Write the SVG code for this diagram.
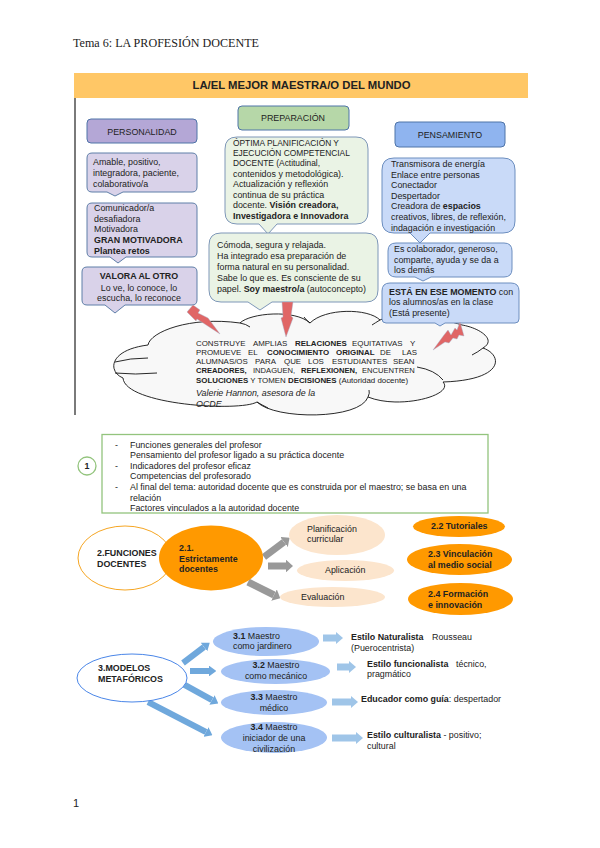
<svg xmlns="http://www.w3.org/2000/svg" width="600" height="848" viewBox="0 0 600 848">
<style>
text{font-family:"Liberation Sans",Arial,sans-serif;font-size:8.9px;fill:#222}
.b{font-weight:700}
.m{text-anchor:middle}
.s{font-size:8.4px}
.c{font-size:7.9px}
.box{stroke-width:1}
.pur{fill:#D9D2E9;stroke:#5F7FA8}
.grn{fill:#EAF3E5;stroke:#7E97B8}
.blu{fill:#C9DAF8;stroke:#6C8EBF}
.bolt{fill:#E06666;stroke:#9FB4CC;stroke-width:.4}
.cl{fill:none;stroke:#111;stroke-width:.9}
</style>
<defs>
<marker id="mg" viewBox="0 0 1 1.8" refX="0" refY=".9" markerWidth="1" markerHeight="1.8" orient="auto"><path d="M0,0L1,.9L0,1.8Z" fill="#999"/></marker>
<marker id="mb" viewBox="0 0 1.2 1.8" refX="0" refY=".9" markerWidth="1.2" markerHeight="1.8" orient="auto"><path d="M0,0L1.2,.9L0,1.8Z" fill="#6FA8DC"/></marker>
<marker id="ml" viewBox="0 0 1 1.7" refX="0" refY=".85" markerWidth="1" markerHeight="1.7" orient="auto"><path d="M0,0L1,.85L0,1.7Z" fill="#9FC5E8"/></marker>
</defs>
<rect width="600" height="848" fill="#fff"/>
<text x="73" y="47" style="font-family:'Liberation Serif',serif;font-size:12.1px">Tema 6: LA PROFESIÓN DOCENTE</text>
<text x="73" y="807" style="font-size:11px">1</text>

<rect x="74" y="73" width="2" height="342" fill="#7a7a7a"/>
<g id="title"><rect x="74" y="73" width="454" height="25" fill="#FFC766"/><text class="b" x="301.500" y="89" style="font-size:11.300px;text-anchor:middle">LA/EL MEJOR MAESTRA/O DEL MUNDO</text></g>

<g id="cloud">
<path d="M148,345C150,332 190,316 240,323C250,313 295,309 310,323C325,308 368,308 380,320C400,310 440,318 462,325C480,328 497,340 483,348C503,355 505,380 443,382C455,395 400,410 368,397C360,420 275,420 257,402C240,412 125,405 123,378C108,372 108,350 148,345Z" fill="#F8F8F8" stroke="#111" stroke-width=".9"/>
<path class="cl" d="M115,362Q130,358 148,358M115,373Q135,375 157,373M417,367Q435,370 443,380M483,348Q478,352 472,355M368,397Q370,393 369,390M257,402Q262,405 268,408M240,323Q246,324 250,327M310,323Q306,320 304,317M380,320Q375,323 372,325"/>
<text class="c"><tspan x="196" y="346">CONSTRUYE</tspan><tspan x="253" y="346">AMPLIAS</tspan><tspan class="b" x="295" y="346">RELACIONES</tspan><tspan x="352" y="346">EQUITATIVAS</tspan><tspan x="410" y="346">Y</tspan></text>
<text class="c"><tspan x="196" y="355">PROMUEVE</tspan><tspan x="248" y="355">EL</tspan><tspan class="b" x="267" y="355">CONOCIMIENTO</tspan><tspan class="b" x="336" y="355">ORIGINAL</tspan><tspan x="380" y="355">DE</tspan><tspan x="402" y="355">LAS</tspan></text>
<text class="c"><tspan x="196" y="364">ALUMNAS/OS</tspan><tspan x="255" y="364">PARA</tspan><tspan x="284" y="364">QUE</tspan><tspan x="308" y="364">LOS</tspan><tspan x="332" y="364">ESTUDIANTES</tspan><tspan x="393" y="364">SEAN</tspan></text>
<text style="font-size:7.600px"><tspan class="b" x="196" y="373">CREADORES,</tspan><tspan x="253" y="373">INDAGUEN,</tspan><tspan class="b" x="301" y="373">REFLEXIONEN,</tspan><tspan x="362" y="373">ENCUENTREN</tspan></text>
<text class="c" x="196" y="383"><tspan class="b">SOLUCIONES</tspan> Y TOMEN <tspan class="b">DECISIONES</tspan> (Autoridad docente)</text>
<text x="196" y="396" style="font-style:italic">Valerie Hannon, asesora de la</text>
<text x="196" y="407" style="font-style:italic">OCDE</text>
</g>

<g id="personalidad"><rect class="box" x="87" y="119" width="110" height="24" rx="4" fill="#B4A7D6" stroke="#4F74A8"/><text class="m" x="142" y="135">PERSONALIDAD</text></g>
<g id="amable"><path class="box pur" d="M92,153H192Q197,153 197,158V187Q197,192 192,192H123L115,196L107,192H92Q87,192 87,187V158Q87,153 92,153Z"/>
<text x="93" y="165">Amable, positivo,</text><text x="93" y="176">integradora, paciente,</text><text x="93" y="187">colaborativo/a</text></g>
<g id="comunicador"><path class="box pur" d="M92,203H192Q197,203 197,208V252Q197,257 192,257H126L118,263L110,257H92Q87,257 87,252V208Q87,203 92,203Z"/>
<text x="94" y="211">Comunicador/a</text><text x="94" y="222">desafiadora</text><text x="94" y="232">Motivadora</text><text class="b" x="94" y="243">GRAN MOTIVADORA</text><text class="b" x="94" y="254">Plantea retos</text></g>
<g id="valora"><path class="box pur" d="M87,267H192Q197,267 197,272V300Q197,305 192,305H125L115,313L105,305H87Q82,305 82,300V272Q82,267 87,267Z"/>
<text class="b m" x="139" y="279">VALORA AL OTRO</text><text class="m" x="139" y="291">Lo ve, lo conoce, lo</text><text class="m" x="139" y="301">escucha, lo reconoce</text></g>

<g id="preparacion"><rect class="box" x="238" y="106" width="111" height="24" rx="4" fill="#B6D7A8" stroke="#4F74A8"/><text class="m" x="293" y="121">PREPARACIÓN</text></g>
<g id="optima"><path class="box grn" d="M237,137H356Q368,137 368,149V212Q368,224 356,224H277L268,234L259,224H237Q225,224 225,212V149Q225,137 237,137Z"/>
<text class="s" x="233" y="146">ÓPTIMA PLANIFICACIÓN Y</text><text class="s" x="233" y="156">EJECUCIÓN COMPETENCIAL</text><text x="233" y="166" class="s">DOCENTE (Actitudinal,</text><text x="233" y="177">contenidos y metodológica).</text><text x="233" y="187">Actualización y reflexión</text><text x="233" y="198">continua de su práctica</text><text x="233" y="208">docente. <tspan class="b">Visión creadora,</tspan></text><text class="b" x="233" y="219">Investigadora e Innovadora</text></g>
<g id="comoda"><path class="box grn" d="M221,233H366Q378,233 378,245V290Q378,302 366,302H272L260,310L248,302H221Q209,302 209,290V245Q209,233 221,233Z"/>
<text x="217" y="248">Cómoda, segura y relajada.</text><text x="217" y="259">Ha integrado esa preparación de</text><text x="217" y="270">forma natural en su personalidad.</text><text x="217" y="281">Sabe lo que es. Es consciente de su</text><text x="217" y="292">papel. <tspan class="b">Soy maestro/a</tspan> (autoconcepto)</text></g>

<g id="pensamiento"><rect class="box" x="395" y="122" width="110" height="25" rx="4" fill="#8FB4EF" stroke="#4F74A8"/><text class="m" x="450" y="138">PENSAMIENTO</text></g>
<g id="transmisora"><path class="box blu" d="M394,158H503Q515,158 515,170V221Q515,233 503,233H430L420,243L410,233H394Q382,233 382,221V170Q382,158 394,158Z"/>
<text x="391" y="167">Transmisora de energía</text><text x="391" y="178">Enlace entre personas</text><text x="391" y="188">Conectador</text><text x="391" y="199">Despertador</text><text x="391" y="209">Creadora de <tspan class="b">espacios</tspan></text><text x="391" y="220">creativos, libres, de reflexión,</text><text x="391" y="231">indagación e investigación</text></g>
<g id="colaborador"><path class="box blu" d="M396,243H504Q512,243 512,251V269Q512,277 504,277H431L423,281L415,277H396Q388,277 388,269V251Q388,243 396,243Z"/>
<text x="394" y="252">Es colaborador, generoso,</text><text x="394" y="263">comparte, ayuda y se da a</text><text x="394" y="273">los demás</text></g>
<g id="esta"><path class="box blu" d="M390,283H511Q519,283 519,291V319Q519,323 515,323H445L440,326L435,323H386Q382,323 382,319V291Q382,283 390,283Z"/>
<text x="389" y="295"><tspan class="b">ESTÁ EN ESE MOMENTO</tspan> con</text><text x="389" y="305">los alumnos/as en la clase</text><text x="389" y="316">(Está presente)</text></g>

<g id="bolts">
<path class="bolt" d="M193,305L200,310L198,313L208,318L220,334L197,319L196,321L187,312Z"/>
<path class="bolt" d="M282,302H293L291,316L293,318L286,337L281,318L283,317Z"/>
<path class="bolt" d="M433,350L444,335L448,330L451,335L455,328L457,330L460,322L464,336L459,335L457,339L453,338L449,343L445,342Z"/>
</g>

<g id="box1"><rect x="102" y="434.500" width="386" height="78.500" fill="#fff" stroke="#93C47D" stroke-width="1.300"/>
<text x="115" y="448">-</text><text x="130" y="448">Funciones generales del profesor</text><text x="130" y="458">Pensamiento del profesor ligado a su práctica docente</text><text x="115" y="469">-</text><text x="130" y="469">Indicadores del profesor eficaz</text><text x="130" y="479">Competencias del profesorado</text><text x="115" y="490">-</text><text x="130" y="490">Al final del tema: autoridad docente que es construida por el maestro; se basa en una</text><text x="130" y="501">relación</text><text x="130" y="511">Factores vinculados a la autoridad docente</text></g>
<g id="n1"><circle cx="87" cy="466" r="9" fill="#fff" stroke="#93C47D" stroke-width="1.300"/><text class="b m" x="87" y="469">1</text></g>

<g id="connectors" fill="none">
<line x1="264" y1="557" x2="284" y2="542" stroke="#999" stroke-width="7" marker-end="url(#mg)"/>
<line x1="268" y1="566" x2="286" y2="566" stroke="#999" stroke-width="7" marker-end="url(#mg)"/>
<line x1="248" y1="582" x2="274" y2="595" stroke="#999" stroke-width="7" marker-end="url(#mg)"/>
<line x1="183" y1="663" x2="204" y2="647" stroke="#6FA8DC" stroke-width="6" marker-end="url(#mb)"/>
<line x1="190" y1="671" x2="209" y2="671" stroke="#6FA8DC" stroke-width="6" marker-end="url(#mb)"/>
<line x1="183" y1="684" x2="212" y2="700" stroke="#6FA8DC" stroke-width="6" marker-end="url(#mb)"/>
<line x1="148" y1="702" x2="206" y2="732" stroke="#6FA8DC" stroke-width="6" marker-end="url(#mb)"/>
<line x1="323" y1="638" x2="336" y2="638" stroke="#9FC5E8" stroke-width="7" marker-end="url(#ml)"/>
<line x1="337" y1="667" x2="349" y2="667" stroke="#9FC5E8" stroke-width="7" marker-end="url(#ml)"/>
<line x1="332" y1="702" x2="351" y2="702" stroke="#9FC5E8" stroke-width="7" marker-end="url(#ml)"/>
<line x1="332" y1="738" x2="356" y2="738" stroke="#9FC5E8" stroke-width="7" marker-end="url(#ml)"/>
</g>

<g id="funciones"><ellipse cx="125" cy="558" rx="47" ry="32" fill="#fff" stroke="#F6A623" stroke-width="1"/><text class="b" x="97" y="556">2.FUNCIONES</text><text class="b" x="97" y="567">DOCENTES</text></g>
<g id="n21"><ellipse cx="211" cy="558" rx="52" ry="32.500" fill="#FF9900"/><text class="b" x="179" y="551">2.1.</text><text class="b" x="179" y="562">Estrictamente</text><text class="b" x="179" y="572">docentes</text></g>
<g id="planificacion"><ellipse cx="337" cy="535" rx="48" ry="20" fill="#FCE5CD"/><text x="307" y="532">Planificación</text><text x="307" y="542">curricular</text></g>
<g id="aplicacion"><ellipse cx="345.500" cy="570.500" rx="48.500" ry="10.500" fill="#FCE5CD"/><text x="325" y="573">Aplicación</text></g>
<g id="evaluacion"><ellipse cx="332.500" cy="597" rx="52.500" ry="10" fill="#FCE5CD"/><text x="301" y="600">Evaluación</text></g>
<g id="n22"><ellipse cx="459" cy="526.500" rx="46" ry="10.500" fill="#FF9900"/><text class="b" x="431" y="529">2.2 Tutoriales</text></g>
<g id="n23"><ellipse cx="459.500" cy="559.500" rx="52.500" ry="15.500" fill="#FF9900"/><text class="b" x="428" y="557">2.3 Vinculación</text><text class="b" x="428" y="568">al medio social</text></g>
<g id="n24"><ellipse cx="460.500" cy="599" rx="52.500" ry="16" fill="#FF9900"/><text class="b" x="428" y="597">2.4 Formación</text><text class="b" x="428" y="608">e innovación</text></g>

<g id="modelos"><ellipse cx="132" cy="678" rx="55" ry="24" fill="#fff" stroke="#4A86E8" stroke-width="1"/><text class="b" x="98" y="671">3.MODELOS</text><text class="b" x="98" y="682">METAFÓRICOS</text></g>
<g id="n31"><ellipse cx="266" cy="641.500" rx="53" ry="14.500" fill="#A4C2F4"/><text x="233" y="639"><tspan class="b">3.1</tspan> Maestro</text><text x="233" y="649">como jardinero</text></g>
<g id="n32"><ellipse cx="275.500" cy="671.500" rx="54.500" ry="12.500" fill="#A4C2F4"/><text class="m" x="276" y="668"><tspan class="b">3.2</tspan> Maestro</text><text class="m" x="276" y="679">como mecánico</text></g>
<g id="n33"><ellipse cx="274" cy="702.500" rx="53" ry="12.500" fill="#A4C2F4"/><text class="m" x="274" y="700"><tspan class="b">3.3</tspan> Maestro</text><text class="m" x="274" y="711">médico</text></g>
<g id="n34"><ellipse cx="274" cy="737.500" rx="53" ry="15.500" fill="#A4C2F4"/><text class="m" x="274" y="730"><tspan class="b">3.4</tspan> Maestro</text><text class="m" x="274" y="741">iniciador de una</text><text class="m" x="274" y="752">civilización</text></g>

<g id="estilo1"><text class="b" x="351" y="640">Estilo Naturalista</text><text x="432" y="640">Rousseau</text><text x="351" y="651">(Puerocentrista)</text></g>
<g id="estilo2"><text class="b" x="367" y="667">Estilo funcionalista</text><text x="456" y="667">técnico,</text><text x="367" y="677">pragmático</text></g>
<g id="estilo3"><text x="361" y="702"><tspan class="b">Educador como guía</tspan>: despertador</text></g>
<g id="estilo4"><text x="367" y="738"><tspan class="b">Estilo culturalista</tspan> - positivo;</text><text x="367" y="749">cultural</text></g>
</svg>
